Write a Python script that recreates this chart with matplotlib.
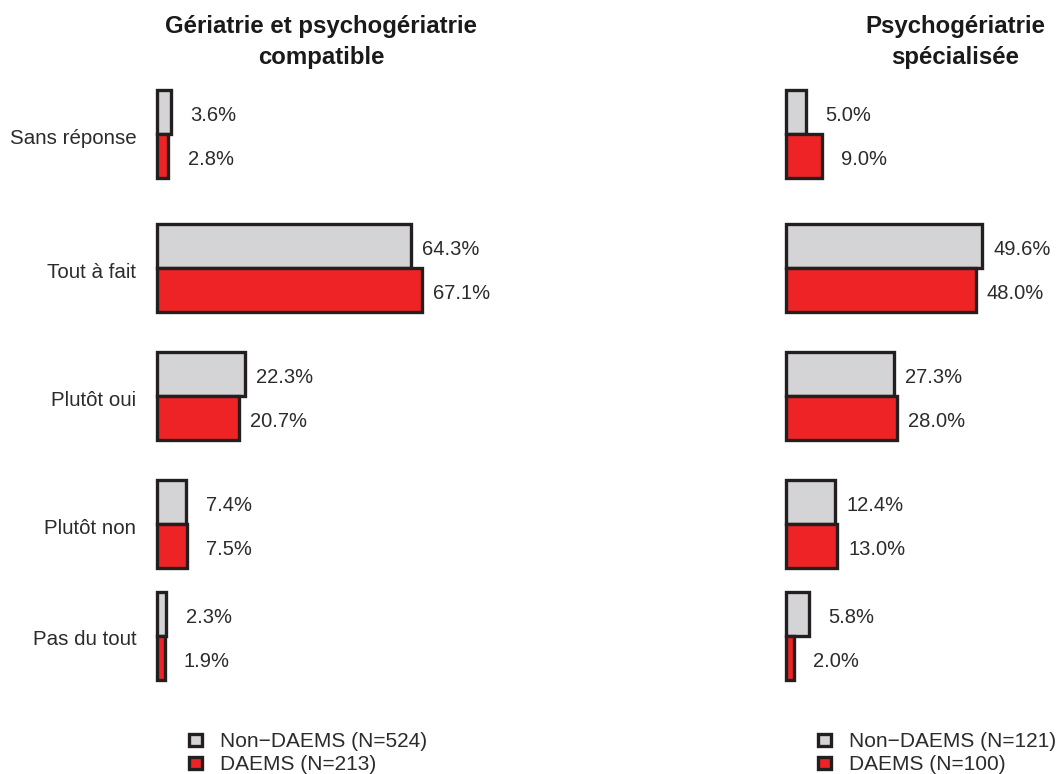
import matplotlib
matplotlib.use("Agg")
import matplotlib.pyplot as plt
from matplotlib.patches import Patch

plt.rcParams["font.family"] = ["Liberation Sans", "DejaVu Sans"]

categories = ["Sans réponse", "Tout à fait", "Plutôt oui", "Plutôt non", "Pas du tout"]

panel_titles = ["Gériatrie et psychogériatrie\ncompatible", "Psychogériatrie\nspécialisée"]
non_daems = [[3.6, 64.3, 22.3, 7.4, 2.3], [5.0, 49.6, 27.3, 12.4, 5.8]]
daems = [[2.8, 67.1, 20.7, 7.5, 1.9], [9.0, 48.0, 28.0, 13.0, 2.0]]
legend_labels = [["Non\u2212DAEMS (N=524)", "DAEMS (N=213)"],
                 ["Non\u2212DAEMS (N=121)", "DAEMS (N=100)"]]

GREY = "#d4d4d6"
RED = "#ee2326"
EDGE = "#231f20"
TXT = "#2b2b2e"

# layout (group spacing in the original is slightly uneven)
row_pos = [0, 1.05, 2.05, 3.05, 3.92]
bar_h = 0.344

W, H = 1058, 774
fig = plt.figure(figsize=(W / 100, H / 100), dpi=100)

ax_x0 = [157, 786]
for i in range(2):
    ax = fig.add_axes([ax_x0[i] / W, (H - 710) / H, 276.5 / W, 640 / H])
    ax.set_xlim(0, 70)
    ax.set_ylim(4.5, -0.5)
    y_top = [p - bar_h / 2 for p in row_pos]
    y_bot = [p + bar_h / 2 for p in row_pos]
    ax.barh(y_top, non_daems[i], height=bar_h, color=GREY, edgecolor=EDGE, lw=2.4, clip_on=False)
    ax.barh(y_bot, daems[i], height=bar_h, color=RED, edgecolor=EDGE, lw=2.4, clip_on=False)
    for vals, ys in ((non_daems[i], y_top), (daems[i], y_bot)):
        for v, y in zip(vals, ys):
            off = 14 if v < 10 else 8
            ax.annotate(f"{v:.1f}%", (v, y), xytext=(off, -2.5), textcoords="offset points",
                        ha="left", va="center", fontsize=14.5, color=TXT)
    for s in ax.spines.values():
        s.set_visible(False)
    ax.set_xticks([])
    ax.set_yticks([])
    if i == 0:
        for cat, p in zip(categories, row_pos):
            ax.annotate(cat, (0, p), xytext=(-15, -3), textcoords="offset points",
                        ha="right", va="center", fontsize=14.8, color=TXT)
    handles = [Patch(facecolor=GREY, edgecolor=EDGE, lw=2.4),
               Patch(facecolor=RED, edgecolor=EDGE, lw=2.4)]
    fig.legend(handles, legend_labels[i], loc="upper left",
               bbox_to_anchor=((ax_x0[i] + 32) / W, 1 - 732 / H), frameon=False,
               fontsize=15, handlelength=0.62, handleheight=0.52, handletextpad=0.85,
               labelspacing=0.2, borderpad=0, borderaxespad=0, labelcolor=TXT)

fig.text(321 / W, 1 - 15 / H, panel_titles[0], ha="center", va="top",
         fontsize=17.3, fontweight="bold", color="#1a1a1a", linespacing=1.45)
fig.text(955 / W, 1 - 15 / H, panel_titles[1], ha="center", va="top",
         fontsize=17.3, fontweight="bold", color="#1a1a1a", linespacing=1.45)

fig.savefig("out.png", dpi=100)
